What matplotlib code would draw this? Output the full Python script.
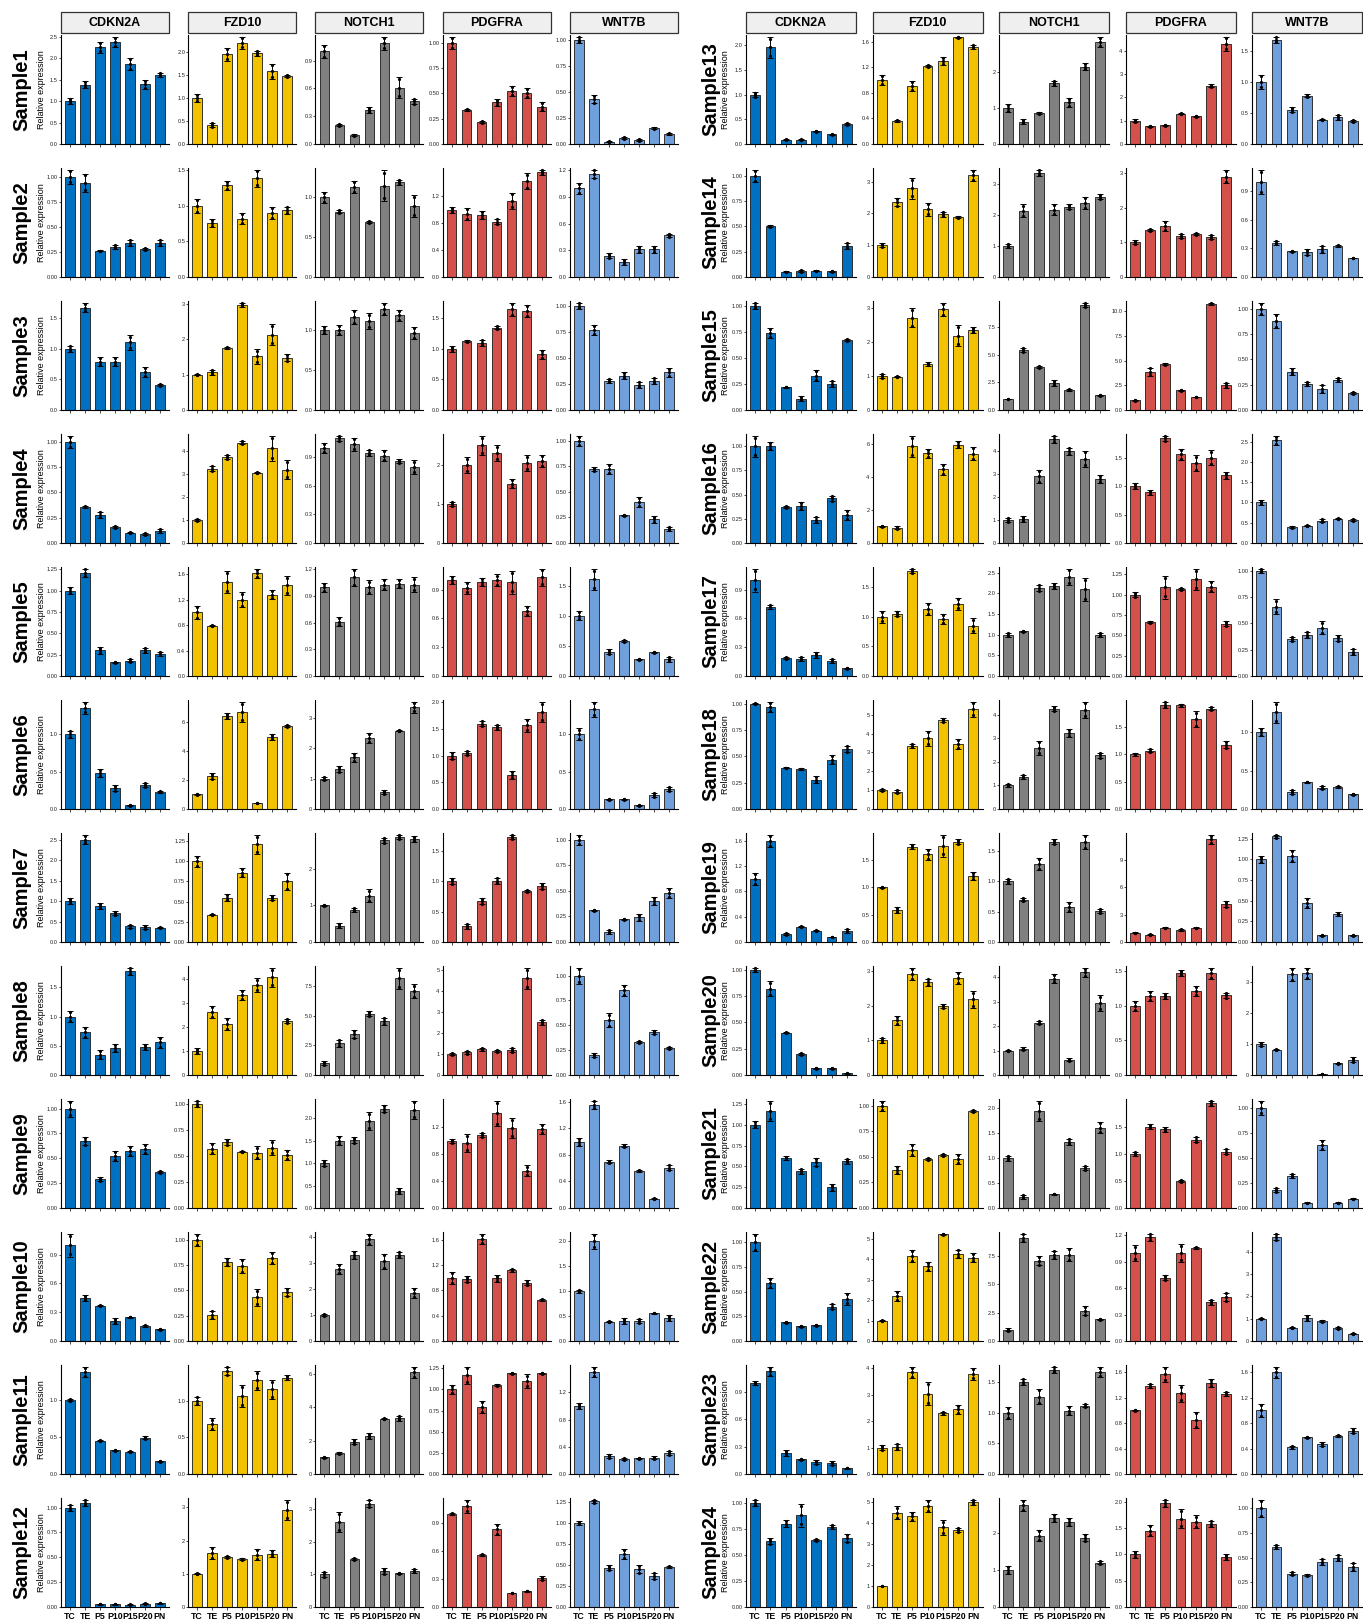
import math
import numpy as np
import matplotlib
matplotlib.use("Agg")
import matplotlib.pyplot as plt
from matplotlib.patches import Rectangle

plt.rcParams["font.family"] = ["Liberation Sans", "DejaVu Sans"]

STAGES = ["TC", "TE", "P5", "P10", "P15", "P20", "PN"]
GENES = ["CDKN2A", "FZD10", "NOTCH1", "PDGFRA", "WNT7B"]
SAMPLES = [f"Sample{i}" for i in range(1, 25)]
COLORS = ["#0070C0", "#F2C200", "#808080", "#D4504A", "#6FA0DC"]

# mean relative expression per sample (rows) and stage (columns), and error bars
CDKN2A_MEAN = [
    [1.0, 1.38, 2.25, 2.38, 1.86, 1.39, 1.61], [1.0, 0.94, 0.26, 0.30, 0.34, 0.28, 0.34],
    [1.0, 1.67, 0.79, 0.79, 1.10, 0.62, 0.41], [1.0, 0.36, 0.28, 0.155, 0.10, 0.09, 0.12],
    [1.0, 1.21, 0.30, 0.16, 0.18, 0.30, 0.26], [1.0, 1.36, 0.48, 0.28, 0.05, 0.32, 0.23],
    [1.0, 2.50, 0.88, 0.70, 0.38, 0.36, 0.35], [1.0, 0.73, 0.35, 0.46, 1.78, 0.48, 0.56],
    [1.0, 0.67, 0.29, 0.52, 0.57, 0.59, 0.36], [1.0, 0.45, 0.37, 0.21, 0.25, 0.16, 0.12],
    [1.0, 1.38, 0.45, 0.32, 0.30, 0.49, 0.17], [1.0, 1.05, 0.03, 0.03, 0.025, 0.035, 0.04],
    [1.0, 1.96, 0.09, 0.09, 0.26, 0.20, 0.41], [1.0, 0.50, 0.05, 0.06, 0.06, 0.055, 0.31],
    [1.0, 0.74, 0.22, 0.11, 0.33, 0.25, 0.67], [1.0, 1.0, 0.37, 0.38, 0.24, 0.46, 0.29],
    [1.0, 0.72, 0.19, 0.18, 0.22, 0.16, 0.08], [1.0, 0.97, 0.39, 0.38, 0.28, 0.47, 0.57],
    [1.0, 1.60, 0.13, 0.24, 0.18, 0.08, 0.18], [1.0, 0.82, 0.40, 0.20, 0.065, 0.065, 0.015],
    [1.0, 1.17, 0.60, 0.44, 0.55, 0.25, 0.56], [1.0, 0.59, 0.19, 0.15, 0.16, 0.35, 0.43],
    [1.0, 1.13, 0.23, 0.16, 0.13, 0.12, 0.065], [1.0, 0.63, 0.80, 0.88, 0.64, 0.77, 0.66],
]
CDKN2A_ERR = [
    [0.07, 0.08, 0.12, 0.12, 0.14, 0.10, 0.04], [0.07, 0.09, 0.005, 0.02, 0.03, 0.01, 0.03],
    [0.05, 0.08, 0.08, 0.07, 0.12, 0.08, 0.02], [0.06, 0.01, 0.03, 0.01, 0.005, 0.01, 0.02],
    [0.04, 0.05, 0.04, 0.01, 0.02, 0.03, 0.02], [0.05, 0.08, 0.05, 0.04, 0.01, 0.03, 0.01],
    [0.07, 0.12, 0.07, 0.05, 0.04, 0.05, 0.01], [0.09, 0.10, 0.07, 0.07, 0.06, 0.05, 0.09],
    [0.08, 0.04, 0.02, 0.05, 0.05, 0.05, 0.01], [0.12, 0.03, 0.01, 0.03, 0.005, 0.01, 0.01],
    [0.01, 0.07, 0.01, 0.01, 0.005, 0.02, 0.01], [0.03, 0.03, 0.005, 0.005, 0.005, 0.005, 0.005],
    [0.05, 0.22, 0.005, 0.005, 0.01, 0.01, 0.02], [0.06, 0.01, 0.005, 0.01, 0.005, 0.005, 0.03],
    [0.03, 0.05, 0.005, 0.02, 0.05, 0.03, 0.01], [0.11, 0.04, 0.01, 0.04, 0.03, 0.03, 0.05],
    [0.12, 0.02, 0.01, 0.02, 0.03, 0.02, 0.005], [0.005, 0.05, 0.005, 0.005, 0.03, 0.04, 0.03],
    [0.10, 0.10, 0.02, 0.01, 0.01, 0.005, 0.03], [0.02, 0.07, 0.005, 0.01, 0.005, 0.005, 0.005],
    [0.04, 0.12, 0.02, 0.03, 0.05, 0.04, 0.03], [0.09, 0.05, 0.005, 0.005, 0.005, 0.03, 0.06],
    [0.02, 0.05, 0.03, 0.01, 0.02, 0.02, 0.005], [0.03, 0.03, 0.03, 0.11, 0.01, 0.02, 0.04],
]
FZD10_MEAN = [
    [1.0, 0.41, 1.95, 2.20, 1.97, 1.58, 1.48], [1.0, 0.76, 1.29, 0.82, 1.39, 0.90, 0.94],
    [1.0, 1.06, 1.76, 2.97, 1.51, 2.12, 1.47], [1.0, 3.22, 3.72, 4.35, 3.04, 4.10, 3.18],
    [1.0, 0.79, 1.48, 1.20, 1.62, 1.28, 1.43], [1.0, 2.25, 6.40, 6.70, 0.42, 4.95, 5.72],
    [1.0, 0.34, 0.55, 0.86, 1.21, 0.55, 0.75], [1.0, 2.62, 2.12, 3.33, 3.75, 4.08, 2.25],
    [1.0, 0.57, 0.63, 0.54, 0.53, 0.58, 0.51], [1.0, 0.26, 0.78, 0.74, 0.43, 0.82, 0.48],
    [1.0, 0.68, 1.41, 1.07, 1.28, 1.16, 1.32], [1.0, 1.62, 1.50, 1.43, 1.57, 1.60, 2.93],
    [1.0, 0.36, 0.91, 1.22, 1.30, 1.67, 1.52], [1.0, 2.35, 2.80, 2.13, 1.98, 1.88, 3.20],
    [1.0, 0.98, 2.70, 1.35, 2.95, 2.18, 2.35], [1.0, 0.92, 5.85, 5.42, 4.45, 5.95, 5.40],
    [1.0, 1.05, 1.77, 1.13, 0.96, 1.22, 0.85], [1.0, 0.92, 3.35, 3.75, 4.72, 3.45, 5.30],
    [1.0, 0.58, 1.74, 1.60, 1.76, 1.83, 1.20], [1.0, 1.58, 2.92, 2.68, 1.98, 2.80, 2.18],
    [1.0, 0.37, 0.57, 0.48, 0.52, 0.48, 0.95], [1.0, 2.22, 4.15, 3.65, 5.22, 4.28, 4.08],
    [1.0, 1.03, 3.85, 3.05, 2.30, 2.45, 3.80], [1.0, 4.48, 4.30, 4.80, 3.78, 3.66, 4.97],
]
FZD10_ERR = [
    [0.09, 0.05, 0.14, 0.13, 0.05, 0.16, 0.02], [0.10, 0.05, 0.06, 0.08, 0.12, 0.08, 0.05],
    [0.02, 0.07, 0.03, 0.06, 0.20, 0.30, 0.10], [0.05, 0.12, 0.10, 0.06, 0.03, 0.55, 0.40],
    [0.10, 0.01, 0.18, 0.12, 0.07, 0.07, 0.15], [0.05, 0.20, 0.20, 0.70, 0.02, 0.20, 0.05],
    [0.07, 0.01, 0.04, 0.06, 0.12, 0.03, 0.11], [0.12, 0.25, 0.25, 0.20, 0.28, 0.40, 0.10],
    [0.03, 0.05, 0.03, 0.005, 0.06, 0.07, 0.05], [0.06, 0.04, 0.04, 0.07, 0.08, 0.06, 0.04],
    [0.06, 0.08, 0.06, 0.15, 0.13, 0.13, 0.03], [0.01, 0.18, 0.03, 0.03, 0.17, 0.10, 0.30],
    [0.08, 0.01, 0.08, 0.02, 0.06, 0.01, 0.03], [0.06, 0.13, 0.33, 0.20, 0.08, 0.03, 0.18],
    [0.07, 0.02, 0.28, 0.05, 0.20, 0.30, 0.08], [0.05, 0.08, 0.65, 0.25, 0.35, 0.20, 0.40],
    [0.10, 0.04, 0.04, 0.10, 0.08, 0.10, 0.12], [0.07, 0.08, 0.10, 0.40, 0.10, 0.25, 0.40],
    [0.01, 0.05, 0.04, 0.10, 0.20, 0.05, 0.07], [0.07, 0.13, 0.18, 0.10, 0.06, 0.18, 0.25],
    [0.05, 0.04, 0.06, 0.01, 0.01, 0.05, 0.01], [0.04, 0.25, 0.30, 0.22, 0.04, 0.20, 0.22],
    [0.10, 0.12, 0.22, 0.45, 0.05, 0.17, 0.22], [0.02, 0.30, 0.20, 0.30, 0.35, 0.10, 0.12],
]
NOTCH1_MEAN = [
    [1.0, 0.206, 0.094, 0.37, 1.09, 0.61, 0.46], [1.0, 0.82, 1.13, 0.69, 1.15, 1.19, 0.89],
    [1.0, 1.0, 1.16, 1.11, 1.26, 1.18, 0.96], [1.0, 1.10, 1.04, 0.95, 0.92, 0.86, 0.80],
    [1.0, 0.61, 1.11, 1.0, 1.03, 1.04, 1.03], [1.0, 1.30, 1.70, 2.33, 0.55, 2.58, 3.35],
    [1.0, 0.45, 0.88, 1.27, 2.78, 2.88, 2.82], [1.0, 2.70, 3.45, 5.20, 4.55, 8.20, 7.10],
    [1.0, 1.50, 1.51, 1.94, 2.21, 0.38, 2.19], [1.0, 2.78, 3.32, 3.92, 3.07, 3.33, 1.85],
    [1.0, 1.25, 1.93, 2.28, 3.33, 3.35, 6.10], [1.0, 2.62, 1.48, 3.18, 1.10, 1.03, 1.12],
    [1.0, 0.62, 0.85, 1.68, 1.16, 2.15, 2.83], [1.0, 2.13, 3.35, 2.16, 2.25, 2.38, 2.58],
    [1.0, 5.40, 3.90, 2.45, 1.82, 9.50, 1.32], [1.0, 1.05, 2.88, 4.50, 3.98, 3.65, 2.78],
    [1.0, 1.08, 2.13, 2.18, 2.40, 2.10, 1.0], [1.0, 1.37, 2.60, 4.25, 3.22, 4.20, 2.27],
    [1.0, 0.70, 1.29, 1.65, 0.58, 1.65, 0.51], [1.0, 1.08, 2.15, 3.95, 0.63, 4.20, 2.95],
    [1.0, 0.23, 1.95, 0.28, 1.33, 0.80, 1.61], [1.0, 9.10, 7.05, 7.60, 7.60, 2.65, 1.90],
    [1.0, 1.51, 1.27, 1.71, 1.04, 1.12, 1.67], [1.0, 2.75, 1.92, 2.40, 2.30, 1.87, 1.20],
]
NOTCH1_ERR = [
    [0.07, 0.01, 0.01, 0.03, 0.07, 0.11, 0.03], [0.07, 0.02, 0.08, 0.01, 0.20, 0.03, 0.14],
    [0.05, 0.06, 0.09, 0.10, 0.08, 0.07, 0.08], [0.05, 0.03, 0.07, 0.03, 0.06, 0.02, 0.07],
    [0.05, 0.05, 0.10, 0.08, 0.06, 0.05, 0.08], [0.05, 0.10, 0.15, 0.17, 0.07, 0.03, 0.18],
    [0.01, 0.06, 0.05, 0.17, 0.07, 0.06, 0.08], [0.15, 0.30, 0.35, 0.20, 0.30, 0.90, 0.60],
    [0.07, 0.10, 0.07, 0.20, 0.08, 0.06, 0.20], [0.03, 0.18, 0.15, 0.22, 0.30, 0.12, 0.18],
    [0.03, 0.05, 0.15, 0.18, 0.03, 0.15, 0.35], [0.08, 0.30, 0.03, 0.12, 0.10, 0.01, 0.06],
    [0.10, 0.06, 0.03, 0.07, 0.12, 0.09, 0.15], [0.06, 0.20, 0.10, 0.18, 0.08, 0.20, 0.08],
    [0.03, 0.20, 0.10, 0.25, 0.07, 0.20, 0.05], [0.10, 0.12, 0.28, 0.15, 0.15, 0.35, 0.17],
    [0.05, 0.02, 0.08, 0.07, 0.20, 0.28, 0.05], [0.05, 0.08, 0.30, 0.10, 0.15, 0.35, 0.12],
    [0.04, 0.03, 0.10, 0.04, 0.08, 0.12, 0.04], [0.01, 0.05, 0.08, 0.20, 0.05, 0.20, 0.32],
    [0.05, 0.04, 0.20, 0.01, 0.06, 0.04, 0.11], [0.10, 0.35, 0.40, 0.35, 0.60, 0.40, 0.05],
    [0.10, 0.05, 0.13, 0.05, 0.07, 0.03, 0.08], [0.10, 0.15, 0.15, 0.10, 0.10, 0.10, 0.05],
]
PDGFRA_MEAN = [
    [1.0, 0.34, 0.22, 0.41, 0.52, 0.50, 0.37], [0.99, 0.93, 0.92, 0.82, 1.13, 1.42, 1.55],
    [1.0, 1.13, 1.10, 1.35, 1.65, 1.62, 0.91], [1.0, 2.0, 2.5, 2.3, 1.52, 2.05, 2.1],
    [1.0, 0.92, 0.98, 1.0, 0.98, 0.68, 1.03], [1.0, 1.05, 1.60, 1.53, 0.64, 1.57, 1.82],
    [1.0, 0.26, 0.67, 1.01, 1.73, 0.84, 0.92], [1.0, 1.08, 1.22, 1.14, 1.18, 4.60, 2.50],
    [0.99, 0.96, 1.08, 1.40, 1.18, 0.55, 1.17], [1.0, 0.98, 1.62, 0.99, 1.12, 0.92, 0.65],
    [1.0, 1.17, 0.79, 1.05, 1.19, 1.10, 1.19], [1.0, 1.08, 0.56, 0.83, 0.15, 0.17, 0.31],
    [1.0, 0.75, 0.80, 1.30, 1.18, 2.50, 4.30], [1.0, 1.35, 1.48, 1.18, 1.25, 1.15, 2.90],
    [1.0, 3.90, 4.65, 1.98, 1.30, 10.8, 2.50], [1.0, 0.89, 1.84, 1.56, 1.40, 1.50, 1.19],
    [1.0, 0.66, 1.09, 1.07, 1.19, 1.10, 0.64], [1.0, 1.07, 1.91, 1.90, 1.65, 1.84, 1.18],
    [1.0, 0.82, 1.55, 1.35, 1.55, 11.3, 4.15], [1.0, 1.14, 1.14, 1.47, 1.21, 1.47, 1.15],
    [1.0, 1.50, 1.45, 0.50, 1.26, 1.93, 1.04], [1.0, 1.18, 0.72, 1.0, 1.06, 0.44, 0.50],
    [1.0, 1.39, 1.57, 1.27, 0.85, 1.43, 1.26], [1.0, 1.45, 1.97, 1.68, 1.62, 1.58, 0.95],
]
PDGFRA_ERR = [
    [0.06, 0.01, 0.01, 0.03, 0.05, 0.05, 0.04], [0.04, 0.09, 0.06, 0.04, 0.12, 0.12, 0.04],
    [0.05, 0.01, 0.05, 0.03, 0.11, 0.10, 0.07], [0.05, 0.20, 0.25, 0.20, 0.12, 0.20, 0.15],
    [0.04, 0.06, 0.04, 0.06, 0.12, 0.05, 0.09], [0.07, 0.04, 0.05, 0.05, 0.07, 0.12, 0.19],
    [0.05, 0.04, 0.05, 0.05, 0.04, 0.02, 0.05], [0.05, 0.08, 0.06, 0.06, 0.10, 0.50, 0.12],
    [0.03, 0.13, 0.03, 0.19, 0.15, 0.08, 0.07], [0.10, 0.05, 0.08, 0.05, 0.02, 0.04, 0.01],
    [0.05, 0.10, 0.07, 0.01, 0.01, 0.08, 0.01], [0.01, 0.07, 0.01, 0.06, 0.005, 0.005, 0.02],
    [0.05, 0.02, 0.01, 0.03, 0.01, 0.05, 0.30], [0.06, 0.03, 0.14, 0.06, 0.03, 0.06, 0.20],
    [0.05, 0.40, 0.07, 0.08, 0.03, 0.10, 0.25], [0.05, 0.04, 0.05, 0.10, 0.14, 0.13, 0.06],
    [0.03, 0.01, 0.14, 0.01, 0.13, 0.07, 0.03], [0.02, 0.03, 0.06, 0.02, 0.15, 0.03, 0.07],
    [0.05, 0.05, 0.05, 0.10, 0.05, 0.50, 0.35], [0.07, 0.07, 0.04, 0.04, 0.07, 0.08, 0.04],
    [0.04, 0.04, 0.04, 0.02, 0.05, 0.05, 0.05], [0.09, 0.04, 0.03, 0.10, 0.01, 0.03, 0.05],
    [0.01, 0.03, 0.12, 0.13, 0.13, 0.06, 0.03], [0.06, 0.10, 0.07, 0.18, 0.12, 0.06, 0.05],
]
WNT7B_MEAN = [
    [1.0, 0.43, 0.02, 0.06, 0.04, 0.15, 0.10], [1.0, 1.16, 0.24, 0.17, 0.31, 0.31, 0.47],
    [1.0, 0.77, 0.28, 0.33, 0.24, 0.28, 0.36], [1.0, 0.72, 0.72, 0.27, 0.40, 0.23, 0.14],
    [1.0, 1.60, 0.40, 0.58, 0.28, 0.39, 0.28], [1.0, 1.34, 0.13, 0.13, 0.05, 0.19, 0.27],
    [1.0, 0.31, 0.10, 0.22, 0.24, 0.40, 0.48], [1.0, 0.20, 0.55, 0.85, 0.33, 0.43, 0.27],
    [1.0, 1.56, 0.70, 0.94, 0.56, 0.14, 0.61], [1.0, 2.0, 0.39, 0.40, 0.40, 0.56, 0.46],
    [1.0, 1.50, 0.26, 0.22, 0.23, 0.24, 0.31], [1.0, 1.26, 0.47, 0.63, 0.45, 0.37, 0.48],
    [1.0, 1.68, 0.55, 0.78, 0.39, 0.43, 0.37], [1.0, 0.36, 0.27, 0.26, 0.29, 0.33, 0.20],
    [1.0, 0.88, 0.38, 0.26, 0.21, 0.30, 0.17], [1.0, 2.53, 0.39, 0.43, 0.55, 0.60, 0.57],
    [1.0, 0.66, 0.35, 0.39, 0.46, 0.36, 0.23], [1.0, 1.26, 0.22, 0.35, 0.28, 0.29, 0.19],
    [1.0, 1.28, 1.04, 0.47, 0.08, 0.34, 0.08], [1.0, 0.82, 3.25, 3.28, 0.04, 0.38, 0.50],
    [1.0, 0.18, 0.32, 0.05, 0.63, 0.05, 0.09], [1.0, 4.65, 0.60, 1.03, 0.88, 0.58, 0.33],
    [1.0, 1.60, 0.42, 0.58, 0.47, 0.60, 0.68], [1.0, 0.61, 0.34, 0.32, 0.46, 0.50, 0.41],
]
WNT7B_ERR = [
    [0.03, 0.04, 0.005, 0.01, 0.01, 0.01, 0.01], [0.06, 0.05, 0.03, 0.03, 0.04, 0.04, 0.02],
    [0.03, 0.05, 0.02, 0.03, 0.03, 0.03, 0.04], [0.05, 0.02, 0.05, 0.005, 0.05, 0.03, 0.02],
    [0.07, 0.18, 0.04, 0.02, 0.01, 0.01, 0.04], [0.08, 0.10, 0.01, 0.01, 0.005, 0.03, 0.03],
    [0.05, 0.005, 0.02, 0.005, 0.03, 0.04, 0.05], [0.08, 0.02, 0.07, 0.06, 0.01, 0.02, 0.01],
    [0.06, 0.06, 0.02, 0.02, 0.01, 0.01, 0.04], [0.03, 0.15, 0.01, 0.06, 0.04, 0.01, 0.06],
    [0.04, 0.08, 0.03, 0.02, 0.01, 0.02, 0.03], [0.02, 0.02, 0.03, 0.06, 0.05, 0.04, 0.01],
    [0.11, 0.05, 0.04, 0.02, 0.01, 0.04, 0.02], [0.13, 0.02, 0.005, 0.03, 0.04, 0.01, 0.005],
    [0.06, 0.07, 0.03, 0.02, 0.04, 0.02, 0.01], [0.06, 0.12, 0.02, 0.01, 0.04, 0.02, 0.02],
    [0.02, 0.07, 0.02, 0.03, 0.06, 0.03, 0.03], [0.05, 0.14, 0.03, 0.005, 0.02, 0.01, 0.01],
    [0.04, 0.02, 0.07, 0.06, 0.005, 0.02, 0.01], [0.06, 0.02, 0.22, 0.17, 0.005, 0.02, 0.08],
    [0.07, 0.02, 0.02, 0.005, 0.05, 0.005, 0.005], [0.03, 0.15, 0.04, 0.12, 0.04, 0.03, 0.03],
    [0.10, 0.09, 0.02, 0.01, 0.03, 0.01, 0.04], [0.09, 0.02, 0.02, 0.01, 0.03, 0.03, 0.04],
]

MEANS = [CDKN2A_MEAN, FZD10_MEAN, NOTCH1_MEAN, PDGFRA_MEAN, WNT7B_MEAN]
ERRS = [CDKN2A_ERR, FZD10_ERR, NOTCH1_ERR, PDGFRA_ERR, WNT7B_ERR]


# ── Wilkinson "extended" breaks, as ggplot2 uses (labeling::extended) ──────────
Q = [1, 5, 2, 2.5, 4, 3]
WTS = [0.25, 0.2, 0.5, 0.05]


def _simp(i, j, lmin, lmax, lstep):
    eps = 1e-10
    r = lmin % lstep
    v = 1 if ((r < eps or lstep - r < eps) and lmin <= 0 <= lmax) else 0
    return 1 - i / (len(Q) - 1) - j + v


def _cov(dmin, dmax, lmin, lmax):
    rng = dmax - dmin
    return 1 - 0.5 * ((dmax - lmax) ** 2 + (dmin - lmin) ** 2) / ((0.1 * rng) ** 2)


def _cov_max(dmin, dmax, span):
    rng = dmax - dmin
    if span > rng:
        half = (span - rng) / 2
        return 1 - 0.5 * (2 * half ** 2) / ((0.1 * rng) ** 2)
    return 1


def _dens(k, m, dmin, dmax, lmin, lmax):
    r = (k - 1) / (lmax - lmin)
    rt = (m - 1) / (max(lmax, dmax) - min(dmin, lmin))
    return 2 - max(r / rt, rt / r)


def _dens_max(k, m):
    return 2 - (k - 1) / (m - 1) if k >= m else 1


def extended(dmin, dmax, m=5):
    best, best_score = None, -2
    j = 1
    while True:
        stop = False
        for i, q in enumerate(Q):
            sm = 1 - i / (len(Q) - 1) - j + 1
            if WTS[0] * sm + WTS[1] + WTS[2] + WTS[3] < best_score:
                stop = True
                break
            k = 2
            while True:
                dm = _dens_max(k, m)
                if WTS[0] * sm + WTS[1] + WTS[2] * dm + WTS[3] < best_score:
                    break
                delta = (dmax - dmin) / (k + 1) / j / q
                z = math.ceil(math.log10(delta))
                while True:
                    step = j * q * 10 ** z
                    cm = _cov_max(dmin, dmax, step * (k - 1))
                    if WTS[0] * sm + WTS[1] * cm + WTS[2] * dm + WTS[3] < best_score:
                        break
                    min_start = math.floor(dmax / step) * j - (k - 1) * j
                    max_start = math.ceil(dmin / step) * j
                    for start in range(min_start, max_start + 1):
                        lmin = start * (step / j)
                        lmax = lmin + step * (k - 1)
                        s = _simp(i, j, lmin, lmax, step)
                        c = _cov(dmin, dmax, lmin, lmax)
                        g = _dens(k, m, dmin, dmax, lmin, lmax)
                        score = WTS[0] * s + WTS[1] * c + WTS[2] * g + WTS[3]
                        if score > best_score:
                            best_score = score
                            best = (lmin, lmax, step)
                    z += 1
                k += 1
        if stop:
            break
        j += 1
    lmin, lmax, step = best
    n = int(round((lmax - lmin) / step))
    return [lmin + step * t for t in range(n + 1)]


def fmt_breaks(b):
    dec = 0
    for v in b:
        d = 0
        while d < 4 and abs(round(v, d) - v) > 1e-9:
            d += 1
        dec = max(dec, d)
    return [f"{v:.{dec}f}" for v in b]


# ── layout (pixels) ────────────────────────────────────────────────────────────
W, H = 1363, 1620
fig = plt.figure(figsize=(W / 100, H / 100), dpi=100)

COL_X0 = [61, 746]
COL_STEP = [127.2, 126.5]
COL_W = [108, 110]
LABEL_X = [22, 711]
YLAB_X = [42, 726]
ROW_BOTTOM0, ROW_STEP, PANEL_H = 144, 133, 109

x = np.arange(1, 8)

for s, name in enumerate(SAMPLES):
    half, r = divmod(s, 12)
    bottom = ROW_BOTTOM0 + ROW_STEP * r
    top = bottom - PANEL_H
    ymid = (top + bottom) / 2
    fig.text(LABEL_X[half] / W, 1 - ymid / H, name, rotation=90, ha="center",
             va="center", fontsize=14.5, fontweight="bold")
    fig.text(YLAB_X[half] / W, 1 - ymid / H, "Relative expression", rotation=90,
             ha="center", va="center", fontsize=6.5)
    for g in range(5):
        x0 = COL_X0[half] + COL_STEP[half] * g
        w = COL_W[half]
        ax = fig.add_axes([x0 / W, 1 - bottom / H, w / W, PANEL_H / H])
        mean = np.array(MEANS[g][s])
        err = np.array(ERRS[g][s])
        ax.bar(x, mean, width=0.64, color=COLORS[g], edgecolor="#1a1a1a",
               linewidth=0.6, zorder=2)
        ax.errorbar(x, mean, yerr=err, fmt="none", ecolor="black", elinewidth=0.7,
                    capsize=2.2, capthick=0.7, zorder=3)
        for pts in (mean - err * 0.8, mean, mean + err * 0.8):
            ax.plot(x, pts, "o", ms=1.3, color="black", zorder=4)
        top_val = float(np.max(mean + err))
        brk = [b for b in extended(0.0, top_val) if -1e-9 <= b <= top_val + 1e-9]
        ax.set_ylim(0, top_val * 1.015)
        ax.set_xlim(0.4, 7.6)
        ax.set_yticks(brk)
        ax.set_yticklabels(fmt_breaks(brk))
        ax.set_xticks(x)
        if r == 11:
            ax.set_xticklabels(STAGES, fontsize=6.3, fontweight="bold")
        else:
            ax.set_xticklabels([])
        ax.tick_params(axis="y", length=1.6, width=0.5, labelsize=4.1, pad=0.6,
                       labelcolor="#222222")
        ax.tick_params(axis="x", length=2.5, width=0.5, pad=1.0)
        for sp in ("top", "right"):
            ax.spines[sp].set_visible(False)
        for sp in ("left", "bottom"):
            ax.spines[sp].set_linewidth(0.8)
        ax.set_facecolor("none")

        if r == 0:
            fig.add_artist(Rectangle((x0 / W, 1 - 33 / H), w / W, 21 / H,
                                     transform=fig.transFigure, facecolor="#EFEFEF",
                                     edgecolor="#333333", linewidth=0.9))
            fig.text((x0 + w / 2) / W, 1 - 22.5 / H, GENES[g], ha="center",
                     va="center", fontsize=9, fontweight="bold")

fig.savefig("out.png", dpi=100)
plt.close(fig)
